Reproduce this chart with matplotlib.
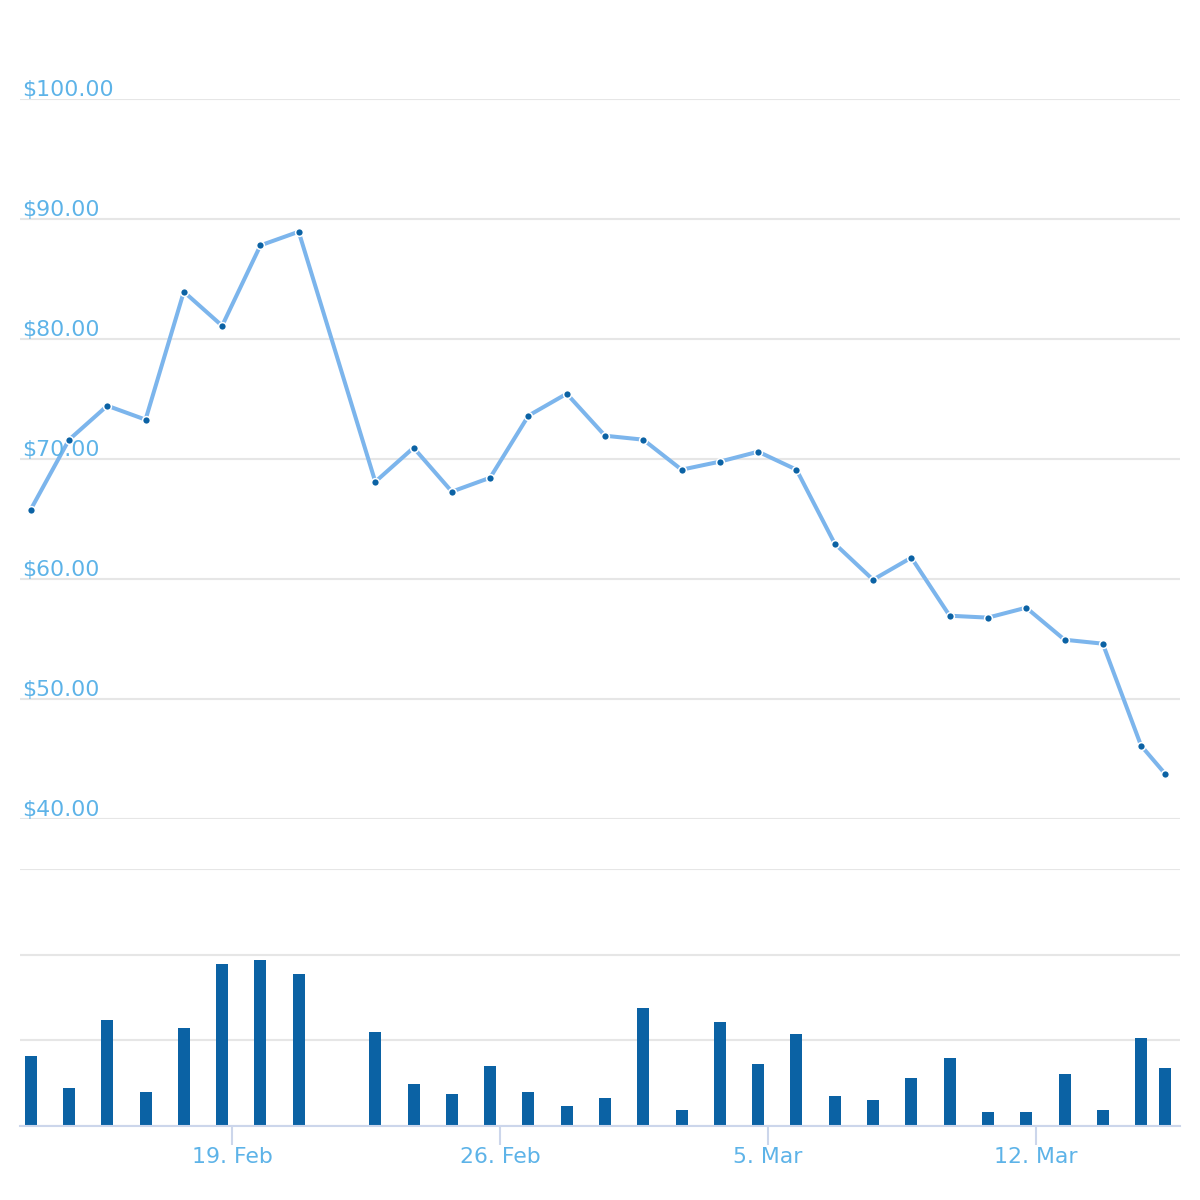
# precio diario con volumen debajo (estilo highstock)

import matplotlib
matplotlib.use('Agg')
import matplotlib.pyplot as plt
import pandas as pd

dates = ['2018-02-14', '2018-02-15', '2018-02-16', '2018-02-17', '2018-02-18',
         '2018-02-19', '2018-02-20', '2018-02-21',
         '2018-02-23', '2018-02-24', '2018-02-25', '2018-02-26', '2018-02-27',
         '2018-02-28', '2018-03-01', '2018-03-02', '2018-03-03', '2018-03-04',
         '2018-03-05', '2018-03-06', '2018-03-07', '2018-03-08', '2018-03-09',
         '2018-03-10', '2018-03-11', '2018-03-12', '2018-03-13', '2018-03-14',
         '2018-03-15', '2018-03-15 15:00']
price = [65.78, 71.60, 74.44, 73.28, 83.94, 81.10, 87.80, 88.94,
         68.10, 70.94, 67.28, 68.44, 73.61, 75.44, 71.94, 71.61, 69.11, 69.78,
         70.61, 69.11, 62.94, 59.94, 61.78, 56.94, 56.78, 57.61, 54.94, 54.61,
         46.11, 43.78]
volume = [16.3, 8.9, 24.7, 7.9, 22.9, 37.8, 38.8, 35.5,
          21.9, 9.8, 7.5, 14.0, 7.9, 4.7, 6.5, 27.6, 3.7, 24.3,
          14.5, 21.5, 7.0, 6.1, 11.2, 15.9, 3.3, 3.3, 12.1, 3.7,
          20.5, 13.5]

tick_dates = ['2018-02-19', '2018-02-26', '2018-03-05', '2018-03-12']
tick_labels = ['19. Feb', '26. Feb', '5. Mar', '12. Mar']
price_ticks = [40, 50, 60, 70, 80, 90, 100]
volume_ticks = [0, 20, 40, 60]

# dias desde el 19 de febrero (hora local -6h)
origin = pd.Timestamp('2018-02-19')
t = pd.to_datetime(dates, format='mixed')
x = ((t - pd.Timedelta(hours=6.2) - origin) / pd.Timedelta(days=1)).values
xt = ((pd.to_datetime(tick_dates) - origin) / pd.Timedelta(days=1)).values

label_color = '#5db3e8'
grid_color = '#e6e6e6'
axis_color = '#ccd6eb'
line_color = '#7cb5ec'
dark_blue = '#0b62a4'
fs = 15.8

fig = plt.figure(figsize=(12, 12), dpi=100)
xmin, xmax = -5.537, 24.758

# panel de precio
ax = fig.add_axes([20 / 1200, 1 - 819 / 1200, 1160 / 1200, 720 / 1200])
ax.plot(x, price, color=line_color, lw=2.9, zorder=3, clip_on=False,
        marker='o', markersize=5.6, markerfacecolor=dark_blue,
        markeredgecolor='white', markeredgewidth=1.1,
        solid_joinstyle='round')
ax.set_xlim(xmin, xmax)
ax.set_ylim(40, 100)
ax.set_yticks(price_ticks)
ax.set_xticks([])
ax.tick_params(axis='y', length=0, labelleft=False)
ax.grid(axis='y', color=grid_color, lw=1.5)
ax.set_axisbelow(True)
for s in ax.spines.values():
    s.set_visible(False)
for v in price_ticks:
    ax.annotate(f'${v:.2f}', xy=(0.002, v), xycoords=('axes fraction', 'data'),
                xytext=(0, 2.5), textcoords='offset points',
                ha='left', va='baseline', fontsize=fs, color=label_color)

# panel de volumen
bx = fig.add_axes([20 / 1200, 1 - 1126 / 1200, 1160 / 1200, 257 / 1200])
bx.bar(x, volume, width=12 / 38.29, color=dark_blue, zorder=2)
bx.set_xlim(xmin, xmax)
bx.set_ylim(0, 60)
bx.set_yticks(volume_ticks)
bx.tick_params(axis='y', length=0, labelleft=False)
bx.grid(axis='y', color=grid_color, lw=1.5)
bx.set_axisbelow(True)
for k, s in bx.spines.items():
    s.set_visible(k == 'bottom')
bx.spines['bottom'].set_color(axis_color)
bx.spines['bottom'].set_linewidth(1.5)
bx.spines['bottom'].set_zorder(3)
bx.set_xticks(xt)
bx.set_xticklabels(tick_labels)
bx.tick_params(axis='x', direction='out', length=14, width=1.5, color=axis_color,
               labelsize=fs, labelcolor=label_color, pad=1)

plt.savefig('out.png', dpi=100)
plt.close()
